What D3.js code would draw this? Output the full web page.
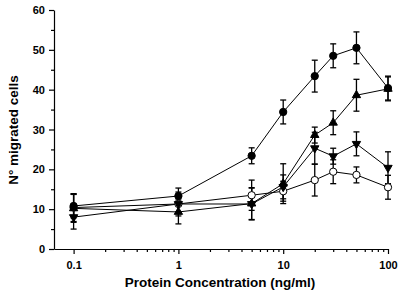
<!DOCTYPE html>
<html>
<head>
<meta charset="utf-8">
<script src="https://cdn.jsdelivr.net/npm/d3@7"></script>
<style>
  body { margin: 0; background: #fff; }
  text { font-family: "Liberation Sans", Arial, sans-serif; font-weight: bold; }
</style>
</head>
<body>
<div class="chart"></div>
<script>
// Protein concentrations (ng/ml)
var concentrations = [0.1, 1, 5, 10, 20, 30, 50, 100];

// Series values and error bars
var filledCircle = [10.8, 13.3, 23.4, 34.4, 43.4, 48.5, 50.5, 40.4];
var filledCircleErr = [3, 2, 2, 3, 4, 3, 4, 3];
var triangleUp = [10.2, 9.3, 11.4, 16.4, 28.6, 31.7, 38.6, 40.2];
var triangleUpErr = [3.5, 3, 4, 5, 2, 3, 4, 3];
var triangleDown = [8, 11.3, 11.3, 15.6, 25.3, 23.3, 26.4, 20.4];
var triangleDownErr = [3, 3, 4, 3, 4, 2, 3, 4];
var openCircle = [10.4, 11.3, 13.5, 14.5, 17.3, 19.4, 18.6, 15.5];
var openCircleErr = [3.5, 2, 3.8, 2.5, 4, 3, 2, 3];

var yTicks = [0, 10, 20, 30, 40, 50, 60];
var xTicks = [0.1, 1, 10, 100];

var margin = {top: 10, right: 12, bottom: 47, left: 54},
    width = 400 - margin.left - margin.right,
    height = 296 - margin.top - margin.bottom;

var svg = d3.select(".chart")
    .append("svg")
    .attr("width", width + margin.left + margin.right)
    .attr("height", height + margin.top + margin.bottom)
    .append("g")
    .attr("transform", `translate(${margin.left},${margin.top})`);

var x = d3.scaleLog()
    .domain([0.065, 100])
    .range([0, width]);

var y = d3.scaleLinear()
    .domain([0, 60])
    .range([height, 0]);

// minor ticks on x: 2..9 of each decade
var xMinor = [];
[0.1, 1, 10].forEach(function (d) {
    for (var k = 2; k <= 9; k++) xMinor.push(d * k);
});
var yMinor = [5, 15, 25, 35, 45, 55];

// x axis
var xAxis = svg.append("g")
    .attr("transform", `translate(0,${height})`)
    .call(d3.axisBottom(x).tickValues(xTicks).tickFormat(d3.format("")).tickSize(5).tickSizeOuter(0));
xAxis.selectAll(".tick text").attr("dy", "1.1em").style("font-size", "11px");
svg.append("g")
    .attr("transform", `translate(0,${height})`)
    .call(d3.axisBottom(x).tickValues(xMinor).tickFormat("").tickSize(3).tickSizeOuter(0))
    .select(".domain").remove();

// y axis
var yAxis = svg.append("g")
    .call(d3.axisLeft(y).tickValues(yTicks).tickSize(5).tickSizeOuter(0));
yAxis.selectAll(".tick text").attr("x", -9).style("font-size", "11px");
svg.append("g")
    .call(d3.axisLeft(y).tickValues(yMinor).tickFormat("").tickSize(3).tickSizeOuter(0))
    .select(".domain").remove();

svg.selectAll(".domain, .tick line").attr("stroke", "#000").attr("stroke-width", 1.2);

var series = [
    {values: openCircle, err: openCircleErr, symbol: d3.symbolCircle, fill: "#fff", rot: 0},
    {values: triangleDown, err: triangleDownErr, symbol: d3.symbolTriangle, fill: "#000", rot: 180},
    {values: triangleUp, err: triangleUpErr, symbol: d3.symbolTriangle, fill: "#000", rot: 0},
    {values: filledCircle, err: filledCircleErr, symbol: d3.symbolCircle, fill: "#000", rot: 0}
];

var line = d3.line()
    .x(d => x(d.c))
    .y(d => y(d.v));

series.forEach(function (s) {
    s.points = concentrations.map((c, i) => ({c: c, v: s.values[i], e: s.err[i]}));
});

// connecting lines
series.forEach(function (s) {
    svg.append("path")
        .datum(s.points)
        .attr("fill", "none")
        .attr("stroke", "#000")
        .attr("stroke-width", 1)
        .attr("d", line);
});

// error bars
series.forEach(function (s) {
    var g = svg.append("g").attr("stroke", "#000").attr("stroke-width", 1.3);
    g.selectAll(".bar")
        .data(s.points)
        .join("line")
        .attr("x1", d => x(d.c))
        .attr("x2", d => x(d.c))
        .attr("y1", d => y(d.v + d.e))
        .attr("y2", d => y(d.v - d.e));
    g.selectAll(".capTop")
        .data(s.points)
        .join("line")
        .attr("x1", d => x(d.c) - 3)
        .attr("x2", d => x(d.c) + 3)
        .attr("y1", d => y(d.v + d.e))
        .attr("y2", d => y(d.v + d.e));
    g.selectAll(".capBottom")
        .data(s.points)
        .join("line")
        .attr("x1", d => x(d.c) - 3)
        .attr("x2", d => x(d.c) + 3)
        .attr("y1", d => y(d.v - d.e))
        .attr("y2", d => y(d.v - d.e));
});

// markers
series.forEach(function (s) {
    svg.append("g")
        .selectAll("path")
        .data(s.points)
        .join("path")
        .attr("transform", d => `translate(${x(d.c)},${y(d.v)}) rotate(${s.rot})`)
        .attr("d", d3.symbol().type(s.symbol).size(s.symbol === d3.symbolCircle ? 42 : 30))
        .attr("fill", s.fill)
        .attr("stroke", "#000")
        .attr("stroke-width", 1);
});

// axis labels
svg.append("text")
    .attr("x", 166)
    .attr("y", height + 38)
    .attr("text-anchor", "middle")
    .style("font-size", "13.5px")
    .text("Protein Concentration (ng/ml)");

svg.append("text")
    .attr("transform", "rotate(-90)")
    .attr("x", -(130 - margin.top))
    .attr("y", -36)
    .attr("text-anchor", "middle")
    .style("font-size", "13.5px")
    .text("N° migrated cells");
</script>
</body>
</html>
